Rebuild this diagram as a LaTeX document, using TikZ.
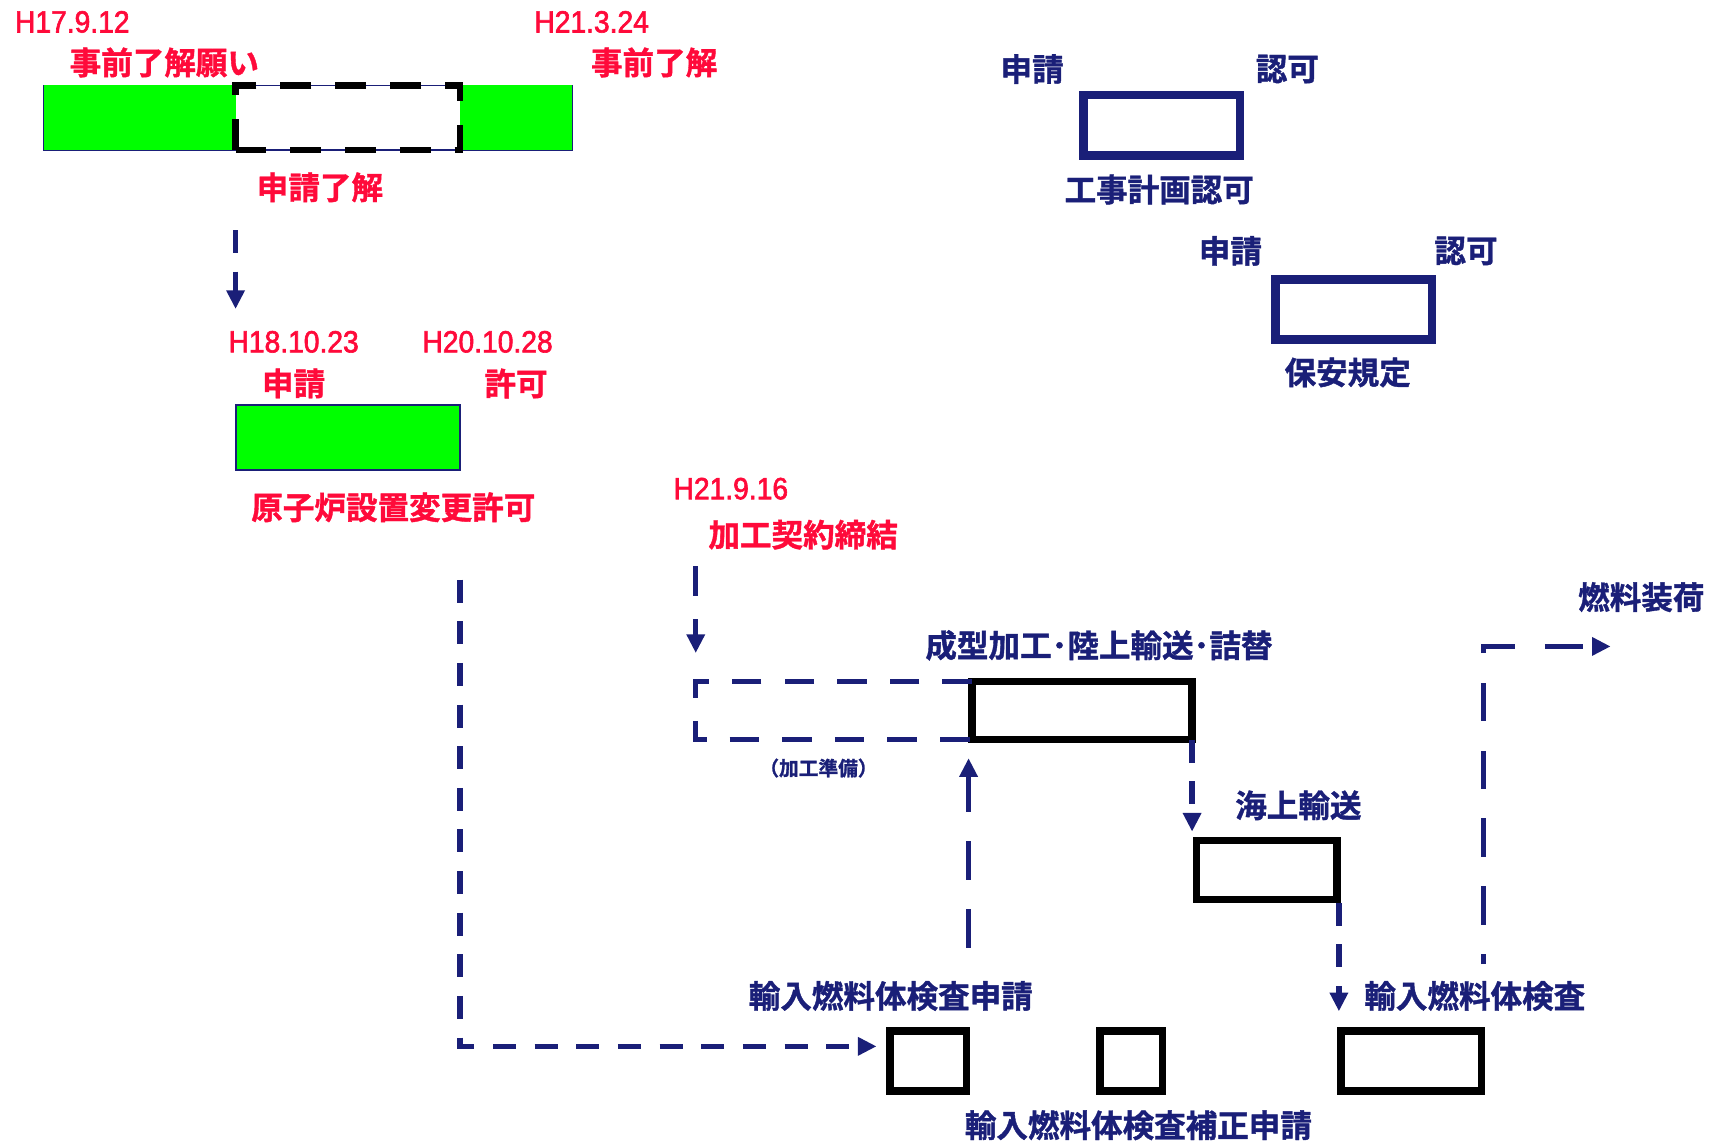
\documentclass[tikz,border=0pt]{standalone}
\usepackage{fontspec}
\usetikzlibrary{arrows.meta,calc}
\newfontfamily\jp{Noto Sans CJK JP Bold}[FakeBold=1.2]
\newfontfamily\dt{Liberation Sans}[FakeStretch=0.92,FakeBold=2]
\definecolor{navy}{HTML}{1A1F78}
\definecolor{jred}{HTML}{FF0A3A}
\definecolor{jgreen}{HTML}{00FF00}
\begin{document}
\begin{tikzpicture}[x=0.5pt,y=-0.5pt,
  every node/.style={inner sep=0pt,outer sep=0pt},
  rlab/.style={text=jred,font=\jp\fontsize{14.4}{16}\selectfont},
  nlab/.style={text=navy,font=\jp\fontsize{14.4}{16}\selectfont},
  dlab/.style={text=jred,font=\dt\fontsize{14}{16}\selectfont},
  gfill/.style={fill=jgreen,minimum height=29.5pt},
  nbox/.style={draw=navy,line width=3.8pt,minimum height=27.5pt},
  kbox/.style={draw=black,line width=3.5pt},
  nav/.style={draw=navy,line width=2.5pt,dash pattern=on 10.5pt off 8.5pt},
  navm/.style={draw=navy,line width=2.5pt,dash pattern=on 13.5pt off 10.5pt},
  navl/.style={draw=navy,line width=2.5pt,dash pattern=on 17.5pt off 13.5pt},
  tip/.style={-{Triangle[length=8.5pt,width=8pt]}}]
\useasboundingbox (0,0) rectangle (1568,1042);
% --- top left: pre-understanding bar
\node[draw=navy,line width=0.8pt,minimum width=241pt,minimum height=29.5pt] (preall) at (281,107.5) {};
\node[gfill,minimum width=87.5pt] (pA) at (127.5,107.5) {};
\node[gfill,minimum width=51pt] (pC) at (471,107.5) {};
\node[draw=black,line width=3pt,dash pattern=on 14pt off 11pt,minimum width=102.5pt,minimum height=29.5pt] (pB) at (317.5,107.5) {};
\node[dlab] (d1) at (66,20) {H17.9.12};
\node[rlab] (t1) at (150,57) {事前了解願い};
\node[dlab] (d2) at (540,20) {H21.3.24};
\node[rlab] (t2) at (597,57) {事前了解};
\node[rlab] (t3) at (292,171) {申請了解};
% --- reactor permit
\node[dlab] (d3) at (268,312) {H18.10.23};
\node[rlab] (t4) at (268,350) {申請};
\node[dlab] (d4) at (445,312) {H20.10.28};
\node[rlab] (t5) at (471,350) {許可};
\node[draw=navy,line width=0.9pt,gfill,minimum width=102.5pt] (chg) at (317.5,399.5) {};
\node[rlab] (t6) at (359,463) {原子炉設置変更許可};
% --- top right
\node[nlab] (k1) at (942,63) {申請};
\node[nlab] (k2) at (1175,63) {認可};
\node[nbox,minimum width=71.5pt] (kj) at (1060.5,114.5) {};
\node[nlab] (k3) at (1058,173) {工事計画認可};
\node[nlab] (h1) at (1123,229) {申請};
\node[nlab] (h2) at (1338,229) {認可};
\node[nbox,minimum width=71.5pt] (hs) at (1235.5,282.5) {};
\node[nlab] (h3) at (1230,340) {保安規定};
% --- processing
\node[dlab] (d5) at (667,446) {H21.9.16};
\node[rlab] (t7) at (733,488) {加工契約締結};
\node[nlab] (s1) at (1003,589) {成型加工･陸上輸送･詰替};
\node[kbox,minimum width=100.5pt,minimum height=26.5pt] (sk) at (987.5,648.5) {};
\node[text=navy,font=\jp\fontsize{9}{11}\selectfont] (s2) at (747,701) {（加工準備）};
\node[nlab] (m1) at (1185,735) {海上輸送};
\node[kbox,minimum width=64pt,minimum height=27pt] (km) at (1156,794) {};
\node[nlab] (i1) at (813,909) {輸入燃料体検査申請};
\node[nlab] (i2) at (1346,909) {輸入燃料体検査};
\node[kbox,minimum width=35pt,minimum height=27.5pt] (b1) at (847,968.5) {};
\node[kbox,minimum width=28.5pt,minimum height=27.5pt] (b2) at (1032.5,968.5) {};
\node[kbox,minimum width=64pt,minimum height=27.5pt] (b3) at (1288,968.5) {};
\node[nlab] (i3) at (1039,1027) {輸入燃料体検査補正申請};
\node[nlab] (f1) at (1498,545) {燃料装荷};
% --- coordinates for free ends
\coordinate (a1s) at (215,210);
\coordinate (a1e) at (215,282);
\coordinate (a2s) at (420,517);
\coordinate (a2e) at (800,955);
\coordinate (a3s) at (635,517);
\coordinate (a3e) at (635,596);
\coordinate (a5s) at (884,865);
\coordinate (a5e) at (884,692);
\coordinate (a8s) at (1354,880);
\coordinate (a8e) at (1470,590);
% --- connectors
\draw[nav,tip] (a1s) -- (a1e);
\draw[nav,dash phase=13pt,tip] (a2s) |- (a2e);
\draw[navm,tip] (a3s) -- (a3e);
\draw[navm] (sk.north west) -- (sk.north west -| a3s) -- (a3s |- sk.south west) -- (sk.south west);
\draw[navl,tip] (a5s) -- (a5e);
\draw[nav,tip,shorten >=4pt] (sk.south east) -- (sk.south east |- km.north);
\draw[nav,tip,shorten >=9pt] ($(km.south east)+(2,3)$) -- ($(km.south east |- b3.north)+(2,0)$);
\draw[navl,dash phase=13pt,tip] (a8s) |- (a8e);
\end{tikzpicture}
\end{document}
